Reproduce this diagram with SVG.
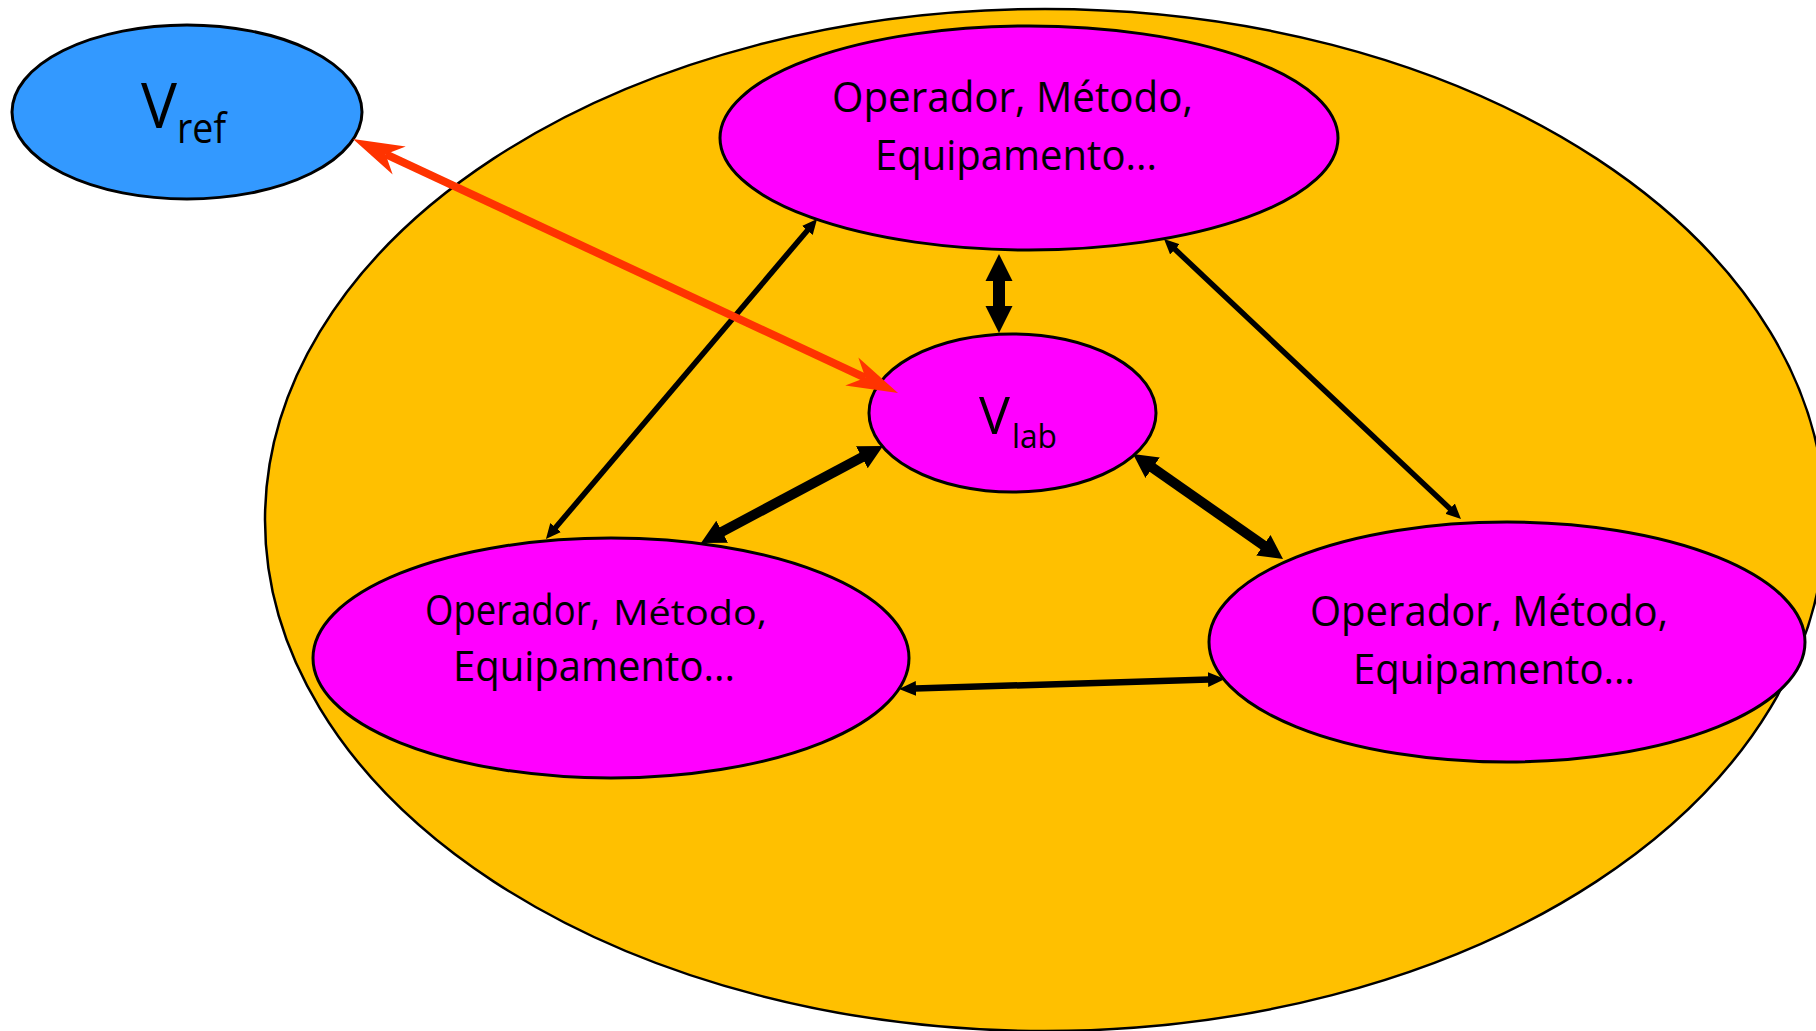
<svg xmlns="http://www.w3.org/2000/svg" width="1816" height="1031" viewBox="0 0 1816 1031">
<style>
.node{stroke:#000;stroke-width:3}
.mag{fill:#FF00FF}
.lbl{font-family:"Open Sans","Lato","Liberation Sans",sans-serif;fill:#000}
.blk{stroke:#000;fill:none;stroke-linecap:butt}
.thick{stroke-width:10;marker-start:url(#mThick);marker-end:url(#mThick)}
.thin{stroke-width:5.5;marker-start:url(#mThin);marker-end:url(#mThin)}
</style>
<defs>
<marker id="mRed" markerUnits="userSpaceOnUse" orient="auto-start-reverse" viewBox="0 -20 60 40" markerWidth="60" markerHeight="40" refX="15" refY="0"><path d="M0,-15.5 L51,0 L0,15.5 L15,0 Z" fill="#FF3300"/></marker>
<marker id="mThick" markerUnits="userSpaceOnUse" orient="auto-start-reverse" viewBox="0 -15 30 30" markerWidth="30" markerHeight="30" refX="2" refY="0"><path d="M0,-12.5 L24,0 L0,12.5 Z" fill="#000"/></marker>
<marker id="mThickV" markerUnits="userSpaceOnUse" orient="auto-start-reverse" viewBox="0 -15 30 30" markerWidth="30" markerHeight="30" refX="2" refY="0"><path d="M0,-13.5 L27,0 L0,13.5 Z" fill="#000"/></marker>
<marker id="mThin" markerUnits="userSpaceOnUse" orient="auto-start-reverse" viewBox="0 -10 20 20" markerWidth="20" markerHeight="20" refX="1" refY="0"><path d="M0,-7 L15,0 L0,7 Z" fill="#000"/></marker>
<marker id="mMid" markerUnits="userSpaceOnUse" orient="auto-start-reverse" viewBox="0 -10 20 20" markerWidth="20" markerHeight="20" refX="1" refY="0"><path d="M0,-7.5 L17,0 L0,7.5 Z" fill="#000"/></marker>
</defs>
<rect width="1816" height="1031" fill="#FFFFFF"/>
<g id="lab-boundary">
<ellipse cx="1045" cy="520" rx="780" ry="511" fill="#FFC000" stroke="#000" stroke-width="2.5"/>
</g>
<g id="node-vref">
<ellipse class="node" cx="187" cy="112" rx="175" ry="87" fill="#3399FF"/>
<text class="lbl" x="141" y="128" font-size="63"><tspan textLength="36" lengthAdjust="spacingAndGlyphs">V</tspan><tspan x="177" y="143" font-size="42" textLength="49" lengthAdjust="spacingAndGlyphs">ref</tspan></text>
</g>
<g id="node-top">
<ellipse class="node mag" cx="1029" cy="138" rx="309" ry="112"/>
<text class="lbl" x="832" y="112" font-size="42" textLength="361" lengthAdjust="spacingAndGlyphs">Operador, Método,</text>
<text class="lbl" x="875" y="170" font-size="42" textLength="282" lengthAdjust="spacingAndGlyphs">Equipamento...</text>
</g>
<g id="node-vlab">
<ellipse class="node mag" cx="1012.5" cy="413" rx="143.5" ry="79"/>
<text class="lbl" x="979" y="434" font-size="52"><tspan textLength="31" lengthAdjust="spacingAndGlyphs">V</tspan><tspan x="1012" y="448" font-size="32" textLength="45" lengthAdjust="spacingAndGlyphs">lab</tspan></text>
</g>
<g id="node-bottom-left">
<ellipse class="node mag" cx="611" cy="658" rx="298" ry="120"/>
<text class="lbl" x="425" y="625" font-size="42"><tspan textLength="175" lengthAdjust="spacingAndGlyphs">Operador,</tspan><tspan x="613" font-size="35" textLength="154" lengthAdjust="spacingAndGlyphs">Método,</tspan></text>
<text class="lbl" x="453" y="681" font-size="42" textLength="282" lengthAdjust="spacingAndGlyphs">Equipamento...</text>
</g>
<g id="node-bottom-right">
<ellipse class="node mag" cx="1507" cy="642" rx="298" ry="120"/>
<text class="lbl" x="1310" y="626" font-size="42" textLength="358" lengthAdjust="spacingAndGlyphs">Operador, Método,</text>
<text class="lbl" x="1353" y="684" font-size="42" textLength="282" lengthAdjust="spacingAndGlyphs">Equipamento...</text>
</g>
<g id="connectors">
<line class="blk thin" x1="808" y1="229.7" x2="555" y2="528.3"/>
<line class="blk thin" x1="1174.2" y1="248.6" x2="1450.8" y2="509.4"/>
<line class="blk" x1="915" y1="688.5" x2="1209" y2="679.5" stroke-width="6.5" marker-start="url(#mMid)" marker-end="url(#mMid)"/>
<line class="blk" x1="999" y1="279" x2="999" y2="308" stroke-width="12" marker-start="url(#mThickV)" marker-end="url(#mThickV)"/>
<line class="blk thick" x1="863.6" y1="456.3" x2="720.4" y2="532.7"/>
<line class="blk thick" x1="1151" y1="466.6" x2="1265" y2="546.4"/>
<line x1="385.6" y1="154.2" x2="865.4" y2="377.8" stroke="#FF3300" stroke-width="8" marker-start="url(#mRed)" marker-end="url(#mRed)"/>
</g>
</svg>
